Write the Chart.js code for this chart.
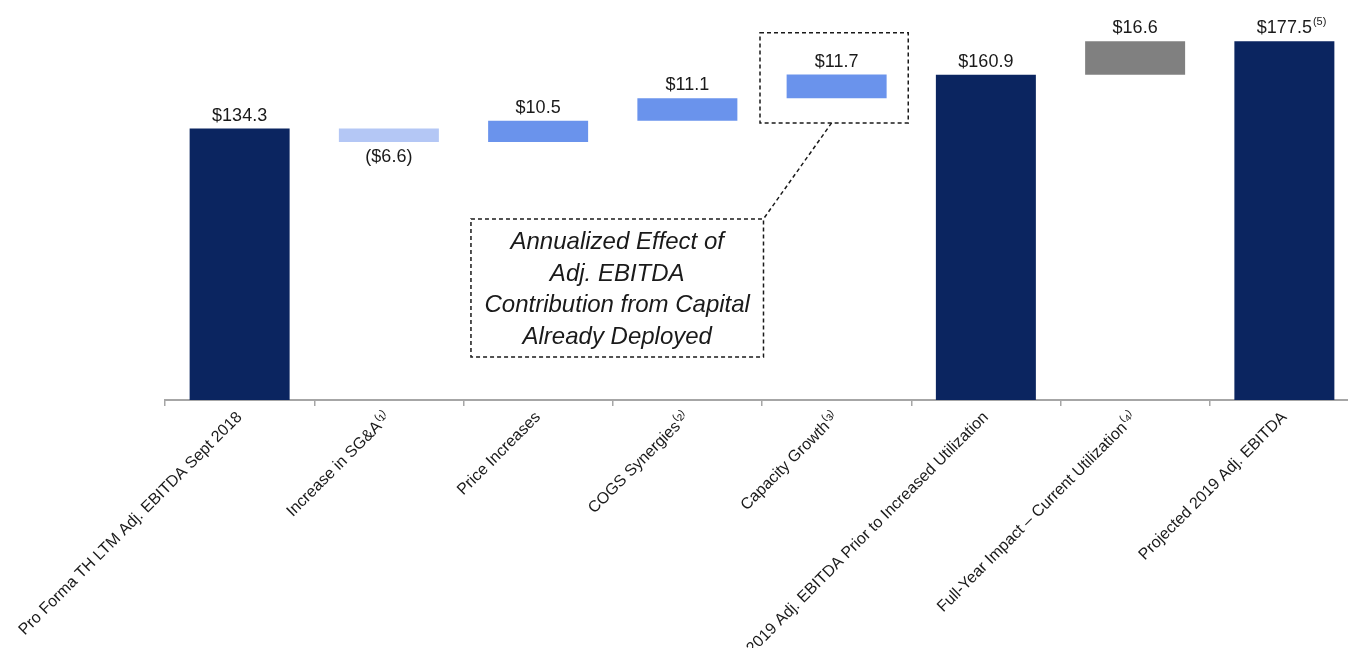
<!DOCTYPE html>
<html>
<head>
<meta charset="utf-8">
<script src="https://cdn.jsdelivr.net/npm/chart.js@4.4.1/dist/chart.umd.min.js"></script>
<style>
  html, body { margin: 0; padding: 0; background: #ffffff; overflow: hidden; }
  #wrap { width: 1360px; height: 660px; position: relative; }
</style>
</head>
<body>
<div id="wrap"><canvas id="chart"></canvas></div>
<script>
// Waterfall data
const categories = [
    'Pro Forma TH LTM Adj. EBITDA Sept 2018',
    'Increase in SG&A⁽¹⁾',
    'Price Increases',
    'COGS Synergies⁽²⁾',
    'Capacity Growth⁽³⁾',
    '2019 Adj. EBITDA Prior to Increased Utilization',
    'Full-Year Impact – Current Utilization⁽⁴⁾',
    'Projected 2019 Adj. EBITDA'
];
const values = [134.3, -6.6, 10.5, 11.1, 11.7, 160.9, 16.6, 177.5];
const kinds = ['total', 'delta', 'delta', 'delta', 'delta', 'total', 'delta', 'total'];
const valueNotes = ['', '', '', '', '', '', '', '(5)'];
const calloutLines = [
    'Annualized Effect of',
    'Adj. EBITDA',
    'Contribution from Capital',
    'Already Deployed'
];

const barColors = ['#0b2560', '#b4c7f5', '#6a93ec', '#6a93ec', '#6a93ec', '#0b2560', '#808080', '#0b2560'];
const FONT = '"Liberation Sans", Arial, sans-serif';

// floating ranges for the waterfall
let running = 0;
const ranges = values.map((v, i) => {
    if (kinds[i] === 'total') {
        running = v;
        return [0, v];
    }
    const start = running;
    running = start + v;
    return [Math.min(start, running), Math.max(start, running)];
});

const fmt = v => v < 0 ? `($${Math.abs(v).toFixed(1)})` : `$${v.toFixed(1)}`;

const valueLabelsPlugin = {
    id: 'valueLabels',
    afterDatasetsDraw(chart) {
        const { ctx } = chart;
        const meta = chart.getDatasetMeta(0);
        ctx.save();
        ctx.textAlign = 'center';
        ctx.fillStyle = '#1a1a1a';
        ctx.font = `18px ${FONT}`;
        meta.data.forEach((bar, i) => {
            const text = fmt(values[i]);
            const top = Math.min(bar.y, bar.base);
            const bottom = Math.max(bar.y, bar.base);
            if (values[i] < 0) {
                ctx.textBaseline = 'top';
                ctx.fillText(text, bar.x, bottom + 6);
            } else {
                ctx.textBaseline = 'bottom';
                ctx.fillText(text, bar.x, top - 4);
                if (valueNotes[i]) {
                    const w = ctx.measureText(text).width;
                    ctx.save();
                    ctx.font = `11px ${FONT}`;
                    ctx.textAlign = 'left';
                    ctx.fillText(valueNotes[i], bar.x + w / 2 + 1, top - 14);
                    ctx.restore();
                }
            }
        });
        ctx.restore();
    }
};

const calloutPlugin = {
    id: 'callout',
    afterDraw(chart) {
        const { ctx, scales: { x, y } } = chart;
        const w = x.getPixelForValue(1) - x.getPixelForValue(0);
        ctx.save();
        ctx.strokeStyle = '#1a1a1a';
        ctx.lineWidth = 1.5;
        ctx.setLineDash([4, 3]);

        // dashed frame round the capacity growth bar
        const hl = x.getPixelForValue(4) - w / 2 - 2;
        const hr = x.getPixelForValue(4) + w / 2 - 3;
        const ht = y.getPixelForValue(181.7);
        const hb = y.getPixelForValue(137.1);
        ctx.strokeRect(hl, ht, hr - hl, hb - ht);

        // text box
        const bl = x.getPixelForValue(2) - 0.45 * w;
        const br = x.getPixelForValue(4) - 0.49 * w;
        const bt = y.getPixelForValue(89.6);
        const bb = y.getPixelForValue(21.3);
        ctx.strokeRect(bl, bt, br - bl, bb - bt);

        // connector
        ctx.beginPath();
        ctx.moveTo(x.getPixelForValue(4) - 5, hb);
        ctx.lineTo(br, bt);
        ctx.stroke();

        ctx.setLineDash([]);
        ctx.fillStyle = '#1a1a1a';
        ctx.font = `italic 24px ${FONT}`;
        ctx.textAlign = 'center';
        ctx.textBaseline = 'middle';
        const cx = (bl + br) / 2;
        const lh = 31.7;
        const cy = (bt + bb) / 2 - lh * (calloutLines.length - 1) / 2 + 2;
        calloutLines.forEach((line, i) => ctx.fillText(line, cx, cy + i * lh));
        ctx.restore();
    }
};

new Chart(document.getElementById('chart'), {
    type: 'bar',
    data: {
        labels: categories,
        datasets: [{
            data: ranges,
            backgroundColor: barColors,
            borderWidth: 0,
            categoryPercentage: 1,
            barPercentage: 0.67
        }]
    },
    options: {
        responsive: true,
        maintainAspectRatio: false,
        animation: false,
        layout: { padding: { left: 165, right: 1, top: 16, bottom: 0 } },
        plugins: {
            legend: { display: false },
            tooltip: { enabled: false }
        },
        scales: {
            y: {
                display: false,
                min: 0,
                max: 190
            },
            x: {
                grid: {
                    display: true,
                    drawOnChartArea: false,
                    drawTicks: true,
                    tickLength: 6,
                    color: '#a6a6a6',
                    lineWidth: 1.5
                },
                border: { display: true, color: '#a6a6a6', width: 2 },
                ticks: {
                    color: '#1a1a1a',
                    font: { family: FONT, size: 16 },
                    minRotation: 45,
                    maxRotation: 45,
                    autoSkip: false,
                    padding: 2
                }
            }
        }
    },
    plugins: [valueLabelsPlugin, calloutPlugin]
});
</script>
</body>
</html>
